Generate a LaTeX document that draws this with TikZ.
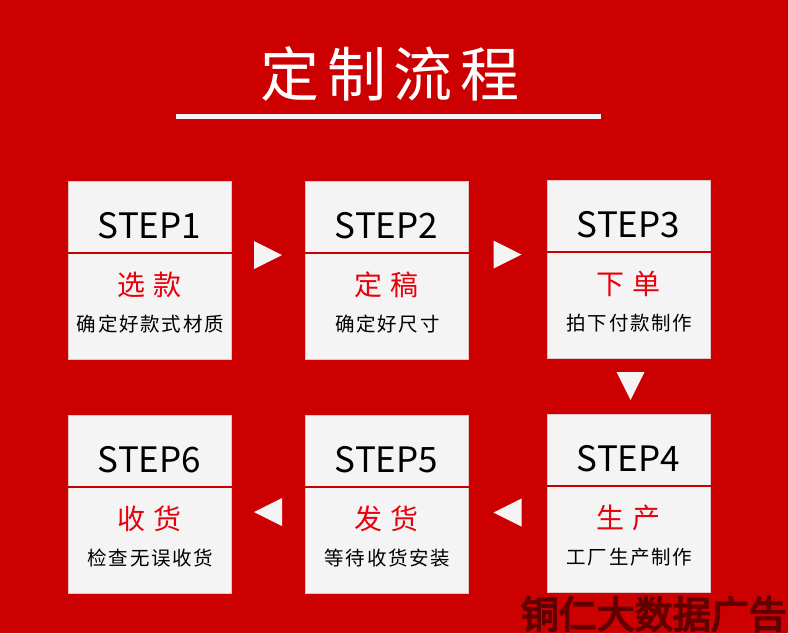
\documentclass[tikz,border=0pt]{standalone}
\usepackage{fontspec}
\setmainfont{Noto Sans CJK SC}
\newfontfamily\markfont[FakeBold=4]{Noto Sans CJK SC}
\usetikzlibrary{calc}
\definecolor{bgred}{RGB}{204,0,0}
\definecolor{cardgrey}{RGB}{244,244,244}
\definecolor{cardedge}{RGB}{226,196,196}
\definecolor{linered}{RGB}{200,0,0}
\definecolor{titlered}{RGB}{232,0,12}
\definecolor{markred}{RGB}{96,0,0}

\begin{document}
\begin{tikzpicture}[x=1pt, y=-1pt,
    stepcard/.style={draw=cardedge, line width=1pt, fill=cardgrey, minimum width=163pt, minimum height=178pt, inner sep=0pt},
    steplabel/.style={inner sep=0pt, font=\fontsize{35}{35}\selectfont},
    stepname/.style={inner sep=0pt, text=titlered, font=\fontsize{28}{28}\selectfont},
    stepnote/.style={inner sep=0pt, font=\fontsize{19.5}{19.5}\selectfont\addfontfeature{LetterSpace=9}},
    divider/.style={linered, line width=2pt},
    tri/.style={fill=cardgrey}]

    % Background
    \fill[bgred] (0,0) rectangle (788,633);
    \useasboundingbox (0,0) rectangle (788,633);

    % Title
    \node[inner sep=0pt, text=white, font=\fontsize{59}{59}\selectfont\addfontfeature{LetterSpace=13}] (title) at (390,74) {定制流程};
    \fill[cardgrey] (176,114) rectangle (601,119);

    % Cards
    \node[stepcard] (s1) at (149.5,270) {};
    \node[stepcard] (s2) at (386.5,270) {};
    \node[stepcard] (s3) at (628.5,269) {};
    \node[stepcard] (s4) at (628.5,503) {};
    \node[stepcard] (s5) at (386.5,504) {};
    \node[stepcard] (s6) at (149.5,504) {};

    % Card dividers
    \foreach \c in {s1,s2,s3,s4,s5,s6}
        \draw[divider] ($(\c.north west)+(0,72)$) -- ($(\c.north east)+(0,72)$);

    % Card texts
    \node[steplabel] (l1) at ($(s1.north)+(0,45)$) {STEP1};
    \node[stepname] (n1) at ($(s1.north)+(0,104)$) {选\hspace{9pt}款};
    \node[stepnote] (d1) at ($(s1.north)+(1,144)$) {确定好款式材质};

    \node[steplabel] (l2) at ($(s2.north)+(0,45)$) {STEP2};
    \node[stepname] (n2) at ($(s2.north)+(0,104)$) {定\hspace{9pt}稿};
    \node[stepnote] (d2) at ($(s2.north)+(1,144)$) {确定好尺寸};

    \node[steplabel] (l3) at ($(s3.north)+(0,45)$) {STEP3};
    \node[stepname] (n3) at ($(s3.north)+(0,104)$) {下\hspace{9pt}单};
    \node[stepnote] (d3) at ($(s3.north)+(1,144)$) {拍下付款制作};

    \node[steplabel] (l4) at ($(s4.north)+(0,45)$) {STEP4};
    \node[stepname] (n4) at ($(s4.north)+(0,104)$) {生\hspace{9pt}产};
    \node[stepnote] (d4) at ($(s4.north)+(1,144)$) {工厂生产制作};

    \node[steplabel] (l5) at ($(s5.north)+(0,45)$) {STEP5};
    \node[stepname] (n5) at ($(s5.north)+(0,104)$) {发\hspace{9pt}货};
    \node[stepnote] (d5) at ($(s5.north)+(1,144)$) {等待收货安装};

    \node[steplabel] (l6) at ($(s6.north)+(0,45)$) {STEP6};
    \node[stepname] (n6) at ($(s6.north)+(0,104)$) {收\hspace{9pt}货};
    \node[stepnote] (d6) at ($(s6.north)+(1,144)$) {检查无误收货};

    % Arrow marks
    \coordinate (a12) at ($(s1.east)!.5!(s2.west)+(0,-15)$);
    \coordinate (a23) at ($(s2.east)!.5!(s3.west)+(0,-15)$);
    \coordinate (a34) at ($(s3.south)!.5!(s4.north)+(2,0)$);
    \coordinate (a45) at ($(s4.west)!.5!(s5.east)+(0,9)$);
    \coordinate (a56) at ($(s5.west)!.5!(s6.east)+(0,8)$);
    \fill[tri] ($(a12)+(-14,-14)$) -- ($(a12)+(-14,14)$) -- ($(a12)+(14,0)$) -- cycle;
    \fill[tri] ($(a23)+(-14,-14)$) -- ($(a23)+(-14,14)$) -- ($(a23)+(14,0)$) -- cycle;
    \fill[tri] ($(a34)+(-14,-14)$) -- ($(a34)+(14,-14)$) -- ($(a34)+(0,14)$) -- cycle;
    \fill[tri] ($(a45)+(14,-14)$) -- ($(a45)+(14,14)$) -- ($(a45)+(-14,0)$) -- cycle;
    \fill[tri] ($(a56)+(14,-14)$) -- ($(a56)+(14,14)$) -- ($(a56)+(-14,0)$) -- cycle;

    % Watermark
    \node[anchor=south east, inner sep=0pt, text=markred, font=\fontsize{38}{38}\markfont] (mark) at (787,632) {铜仁大数据广告};
\end{tikzpicture}
\end{document}
